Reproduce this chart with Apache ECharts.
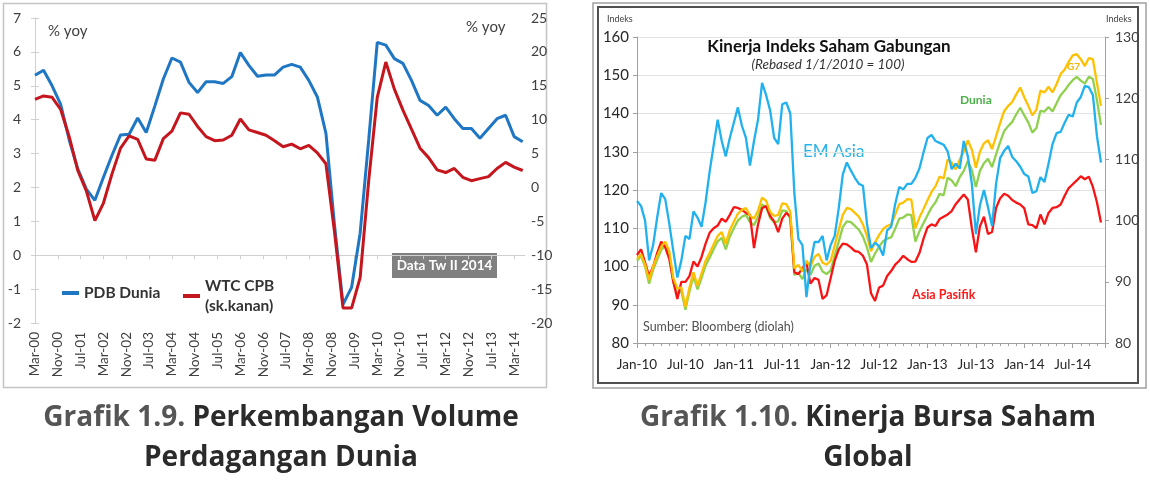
<!DOCTYPE html>
<html><head><meta charset="utf-8">
<script src="https://cdn.jsdelivr.net/npm/echarts@6/dist/echarts.min.js"></script>
<style>html,body{margin:0;padding:0;background:#fff}#c{width:1150px;height:480px}</style>
</head><body><div id="c"></div>
<script>
// ---------- Grafik 1.9 (quarterly, Mar-00 .. Jun-14) ----------
const leftTickLabels = ['Mar-00','Nov-00','Jul-01','Mar-02','Nov-02','Jul-03','Mar-04','Nov-04','Jul-05','Mar-06','Nov-06','Jul-07','Mar-08','Nov-08','Jul-09','Mar-10','Nov-10','Jul-11','Mar-12','Nov-12','Jul-13','Mar-14'];
const pdbDunia = [5.31,5.46,5.0,4.45,3.4,2.55,1.95,1.62,2.3,2.95,
  3.55,3.57,4.05,3.62,4.4,5.2,5.82,5.7,5.1,4.8,
  5.12,5.12,5.07,5.27,5.98,5.6,5.28,5.32,5.32,5.55,
  5.63,5.55,5.16,4.67,3.6,0.9,-1.45,-0.95,0.65,3.4,
  6.28,6.2,5.8,5.66,5.16,4.57,4.42,4.13,4.37,4.03,
  3.74,3.74,3.45,3.74,4.03,4.13,3.5,3.35];
const wtcCpb = [13.0,13.5,13.3,11.5,7.5,2.5,-0.5,-4.9,-2.3,2.0,
  5.8,7.6,7.1,4.2,4.0,7.2,8.3,11.0,10.8,9.0,
  7.5,6.9,7.0,7.7,10.1,8.5,8.1,7.7,6.9,6.0,
  6.4,5.7,6.2,5.1,3.5,-6.5,-17.8,-17.8,-13.3,1.0,
  13.3,18.5,14.5,11.4,8.6,5.8,4.4,2.6,2.2,2.8,
  1.5,1.0,1.3,1.6,2.8,3.7,3.0,2.5];
const leftStepMonths = 3;
const leftLabelEvery = 8;

// ---------- Grafik 1.10 (half-monthly, Jan-10 .. Oct-14) ----------
const rightTickLabels = ['Jan-10','Jul-10','Jan-11','Jul-11','Jan-12','Jul-12','Jan-13','Jul-13','Jan-14','Jul-14'];
const rightStepMonths = 0.5;
const emAsia = [103.2,102.4,100,93.5,96,100.5,104.5,103.5,99.5,95,
  90.7,93.5,97.5,97,101.5,100.5,99,103,108,112.3,
  116.5,113,110.5,113.5,116,118.5,115.5,113.5,109,113,
  116.5,122.5,120.5,118,113.5,112.5,119,119.3,117.5,104.5,
  97,96,87.5,93,96.5,96.5,97.5,93.5,96,97.5,
  102,107.5,109.5,108.2,107,106,105.7,99.5,95.5,96.4,
  95.8,94.3,98.4,99,102.7,105.5,105.1,106,106,107,
  108.5,111.1,113.5,114,113,112.7,112.4,111.3,108.4,109.3,
  108.5,113,110.5,106,97.8,102.5,105,102.2,99.1,106,
  110.2,111.4,112.2,110.4,109.7,108.8,107.6,107.2,104.5,104.8,
  107.1,106.3,109.3,112.5,114.3,114.5,116,117.3,117,119.3,
  120.2,122,121.8,120.5,113.8,109.5];
const asiaPasifik = [103,104.5,101,97.5,100,103.5,106.5,105,102,96,
  91.5,96,96,97.5,101.3,100,102.5,106,108.8,110,
  110.7,112.5,111.7,113.5,115.5,115.3,114.8,114,113.5,104.8,
  111,115.2,115.8,113.2,111.8,109,112.5,114,113,98.5,
  98,99.5,101,95.5,97,96.5,91.5,92.5,97,101.5,
  104.5,106,105.8,105,104,103.8,102.8,100.5,93,91,
  94.5,95,97.5,98.8,100.5,101.5,102.8,101.9,101.2,101.3,
  103.5,107.2,110.2,111,110.6,112.4,113,113.6,114.5,116.3,
  117.6,118.8,117.5,110,103.7,110.5,113,108.5,109,115.3,
  117.8,119,118.5,117.4,116.7,116.2,115.2,111,110.8,110,
  113.6,111,114,115.3,115.5,116.2,118.5,120.5,121.5,122.5,
  123.6,122.8,123.5,120.8,116.8,111.5];
const g7 = [102,103.2,100.5,96.5,100,102.7,105.2,106.5,104,97,
  94.3,94.5,89.5,94.5,98.5,95,98.2,101.5,103.5,105.8,
  108,109,106,109.5,111.7,113.8,114.8,115.3,113.3,112.5,
  114.6,118,117.2,114.3,113.2,113.5,116.5,116.3,114.3,99.5,
  100.4,98.7,101.5,100,102.5,103.3,101,100.5,101.5,105.5,
  109.5,113.5,115.3,115,114,113,111,108,104,106.3,
  108.2,109.8,110.6,111,113.6,116.3,116.7,117.6,117.5,110,
  112.8,115,117.3,119.5,121,123.5,123,128,127.2,125.4,
  128,130,133,130.5,125.8,130,132.2,133,130.7,134,
  137.5,140.6,142,143,145,146.8,144.2,142,139.5,141,
  146,145.5,147,145.5,147.7,150.3,151.5,153.5,155.2,155.5,
  154.2,152.4,154.5,154.2,148,142];
const dunia = [101.5,102.8,100,95.5,99.2,101.8,104.3,105.5,103,96,
  93,93.5,88.7,93.5,97.5,94,97,100.3,102.3,104.5,
  106.6,107.5,104.5,107.8,110,112,113,113.5,111.6,110.8,
  113,116.2,115.5,112.7,111.5,111.8,114.7,114.5,112.5,97.8,
  98.4,96.7,99.3,97.8,100.2,100.8,98.7,98,99,102.8,
  106.5,110.3,111.8,111.6,110.6,109.6,107.8,105,101.2,103.4,
  105.2,106.6,107.3,107.6,109.9,112.5,112.8,113.6,113.4,106.5,
  109.2,111.3,113.4,115.4,116.8,119,118.6,123.2,122.5,121,
  123.4,125,127.6,125.2,120.8,125,127,128.2,126,129.3,
  132.5,135.4,136.7,137.8,139.8,141.5,139.5,137.6,135,136.2,
  140.7,140.5,141.7,140.5,142.7,144.8,146,147.5,148.7,149.6,
  148.6,147.8,149.6,149,143.5,137];

const FONT = 'Lato, "Open Sans", "DejaVu Sans", sans-serif';
const CAP_FONT = '"Open Sans", "Noto Sans", sans-serif';
const toPairs = (arr, step) => arr.map((v, i) => [i * step, v]);
const leftTickVals = leftTickLabels.map((_, i) => i * leftLabelEvery);

const chart = echarts.init(document.getElementById('c'));
const txt = (x, y, text, extra) => ({type:'text', x, y, silent:true,
  style: Object.assign({text, fontFamily: FONT, align:'left', verticalAlign:'middle'}, extra)});
const capRich = {
  a:{fontSize:28, fontWeight:'bold', fontFamily:CAP_FONT, fill:'#555555'},
  b:{fontSize:28, fontWeight:'bold', fontFamily:CAP_FONT, fill:'#2b2b2b'}
};

const option = {
  animation: false,
  textStyle: {fontFamily: FONT},
  grid: [
    {left: 33, top: 18, width: 492, height: 305},
    {left: 637, top: 37, width: 468, height: 306}
  ],
  xAxis: [
    {gridIndex:0, type:'value', min:-0.7, max:171.8, position:'bottom',
      axisLine:{show:false, onZero:false}, axisTick:{show:false}, splitLine:{show:false},
      axisLabel:{customValues: leftTickVals, rotate:90, color:'#404040', fontSize:13.5, margin:9,
        formatter: v => leftTickLabels[Math.round(v / leftLabelEvery)] || ''}},
    {gridIndex:0, type:'value', min:-0.7, max:171.8, position:'bottom',
      axisLine:{show:true, onZero:true, onZeroAxisIndex:0, lineStyle:{color:'#d0d0d0', width:1}},
      axisTick:{show:true, customValues: leftTickVals, length:4, lineStyle:{color:'#d0d0d0'}},
      axisLabel:{show:false}, splitLine:{show:false}},
    {gridIndex:1, type:'value', min:0, max:58, interval:6, position:'bottom',
      axisLine:{show:true, onZero:false, lineStyle:{color:'#a0a0a0', width:1}},
      axisTick:{show:true, length:5, lineStyle:{color:'#a0a0a0'}},
      minorTick:{show:true, splitNumber:6, length:3, lineStyle:{color:'#a0a0a0'}},
      splitLine:{show:false}, minorSplitLine:{show:false},
      axisLabel:{color:'#262626', fontSize:13.5, margin:15,
        formatter: v => (v % 6 === 0 && rightTickLabels[v / 6]) ? rightTickLabels[v / 6] : ''}}
  ],
  yAxis: [
    {gridIndex:0, type:'value', min:-2, max:7, interval:1, position:'left',
      axisLine:{show:true, lineStyle:{color:'#d0d0d0'}}, axisTick:{show:true, length:4, lineStyle:{color:'#d0d0d0'}},
      splitLine:{show:false}, axisLabel:{color:'#404040', fontSize:14, margin:12}},
    {gridIndex:0, type:'value', min:-20, max:25, interval:5, position:'right',
      axisLine:{show:true, lineStyle:{color:'#d0d0d0'}}, axisTick:{show:true, length:4, lineStyle:{color:'#d0d0d0'}},
      splitLine:{show:false}, axisLabel:{color:'#404040', fontSize:14, margin:6}},
    {gridIndex:1, type:'value', min:80, max:160, interval:10, position:'left',
      axisLine:{show:true, lineStyle:{color:'#a0a0a0'}}, axisTick:{show:true, length:4, lineStyle:{color:'#a0a0a0'}},
      splitLine:{show:true, lineStyle:{color:'#e3e3e3'}}, axisLabel:{color:'#262626', fontSize:15, margin:8}},
    {gridIndex:1, type:'value', min:80, max:130, interval:10, position:'right',
      axisLine:{show:true, lineStyle:{color:'#a0a0a0'}}, axisTick:{show:true, length:4, lineStyle:{color:'#a0a0a0'}},
      splitLine:{show:false}, axisLabel:{color:'#404040', fontSize:14, margin:10}}
  ],
  legend: [
    {left: 57, top: 280, icon:'rect', itemWidth:17, itemHeight:4, itemGap:10,
      textStyle:{fontSize:15.5, fontWeight:'bold', color:'#333', fontFamily:FONT}, data:['PDB Dunia']},
    {left: 178, top: 271, icon:'rect', itemWidth:17, itemHeight:4,
      textStyle:{fontSize:15.5, fontWeight:'bold', color:'#333', fontFamily:FONT, lineHeight:20}, data:['WTC CPB\n(sk.kanan)']}
  ],
  series: [
    {name:'PDB Dunia', type:'line', xAxisIndex:0, yAxisIndex:0, data: toPairs(pdbDunia, leftStepMonths),
      showSymbol:false, color:'#1f77c3', lineStyle:{width:3, color:'#1f77c3'}},
    {name:'WTC CPB\n(sk.kanan)', type:'line', xAxisIndex:0, yAxisIndex:1, data: toPairs(wtcCpb, leftStepMonths),
      showSymbol:false, color:'#c5161d', lineStyle:{width:3, color:'#c5161d'}},
    {name:'Dunia', type:'line', xAxisIndex:2, yAxisIndex:2, data: toPairs(dunia, rightStepMonths),
      showSymbol:false, lineStyle:{width:2.3, color:'#8fd14f'}},
    {name:'Asia Pasifik', type:'line', xAxisIndex:2, yAxisIndex:2, data: toPairs(asiaPasifik, rightStepMonths),
      showSymbol:false, lineStyle:{width:2.3, color:'#f81414'}},
    {name:'G7', type:'line', xAxisIndex:2, yAxisIndex:2, data: toPairs(g7, rightStepMonths),
      showSymbol:false, lineStyle:{width:2.3, color:'#ffc000'}},
    {name:'EM Asia', type:'line', xAxisIndex:2, yAxisIndex:3, data: toPairs(emAsia, rightStepMonths),
      showSymbol:false, lineStyle:{width:2.3, color:'#21b1ee'}}
  ],
  graphic: [
    {type:'rect', silent:true, shape:{x:3.5, y:3.5, width:543, height:384}, style:{fill:'none', stroke:'#c4c4c4', lineWidth:1.5}},
    {type:'rect', silent:true, shape:{x:593, y:3, width:553, height:385}, style:{fill:'none', stroke:'#a0a0a0', lineWidth:1.5}},
    {type:'rect', silent:true, shape:{x:598, y:7, width:540, height:376}, style:{fill:'none', stroke:'#505050', lineWidth:2}},
    txt(48, 31, '% yoy', {fontSize:15, fill:'#404040'}),
    txt(466, 27, '% yoy', {fontSize:15, fill:'#404040'}),
    {type:'rect', silent:true, shape:{x:392, y:253, width:105, height:25}, style:{fill:'#808080'}},
    txt(444.5, 266, 'Data Tw II 2014', {fontSize:13.5, fontWeight:'bold', fill:'#ffffff', align:'center'}),
    txt(607, 19, 'Indeks', {fontSize:9, fill:'#404040'}),
    txt(1106, 19, 'Indeks', {fontSize:9, fill:'#404040'}),
    txt(829, 47, 'Kinerja Indeks Saham Gabungan', {fontSize:17, fontWeight:'bold', fill:'#111', align:'center'}),
    txt(828, 65, '(Rebased 1/1/2010 = 100)', {fontSize:13.5, fontStyle:'italic', fill:'#333', align:'center'}),
    txt(803, 152, 'EM Asia', {fontSize:17, fill:'#29b3ea'}),
    txt(960, 100, 'Dunia', {fontSize:12, fontWeight:'bold', fill:'#4cb14a'}),
    txt(1067, 67, 'G7', {fontSize:10, fontWeight:'bold', fill:'#f0b400'}),
    txt(912, 295, 'Asia Pasifik', {fontSize:12.5, fontWeight:'bold', fill:'#ff1a1a'}),
    txt(643, 327, 'Sumber: Bloomberg (diolah)', {fontSize:12.5, fill:'#505050'}),
    {type:'text', x:281, y:418, silent:true, style:{text:'{a|Grafik 1.9. }{b|Perkembangan Volume}', align:'center', verticalAlign:'middle', rich:capRich}},
    {type:'text', x:281, y:458, silent:true, style:{text:'Perdagangan Dunia', align:'center', verticalAlign:'middle', fontSize:28, fontWeight:'bold', fontFamily:CAP_FONT, fill:'#2b2b2b'}},
    {type:'text', x:868, y:418, silent:true, style:{text:'{a|Grafik 1.10. }{b|Kinerja Bursa Saham}', align:'center', verticalAlign:'middle', rich:capRich}},
    {type:'text', x:868, y:458, silent:true, style:{text:'Global', align:'center', verticalAlign:'middle', fontSize:28, fontWeight:'bold', fontFamily:CAP_FONT, fill:'#2b2b2b'}}
  ]
};
chart.setOption(option);
</script></body></html>
